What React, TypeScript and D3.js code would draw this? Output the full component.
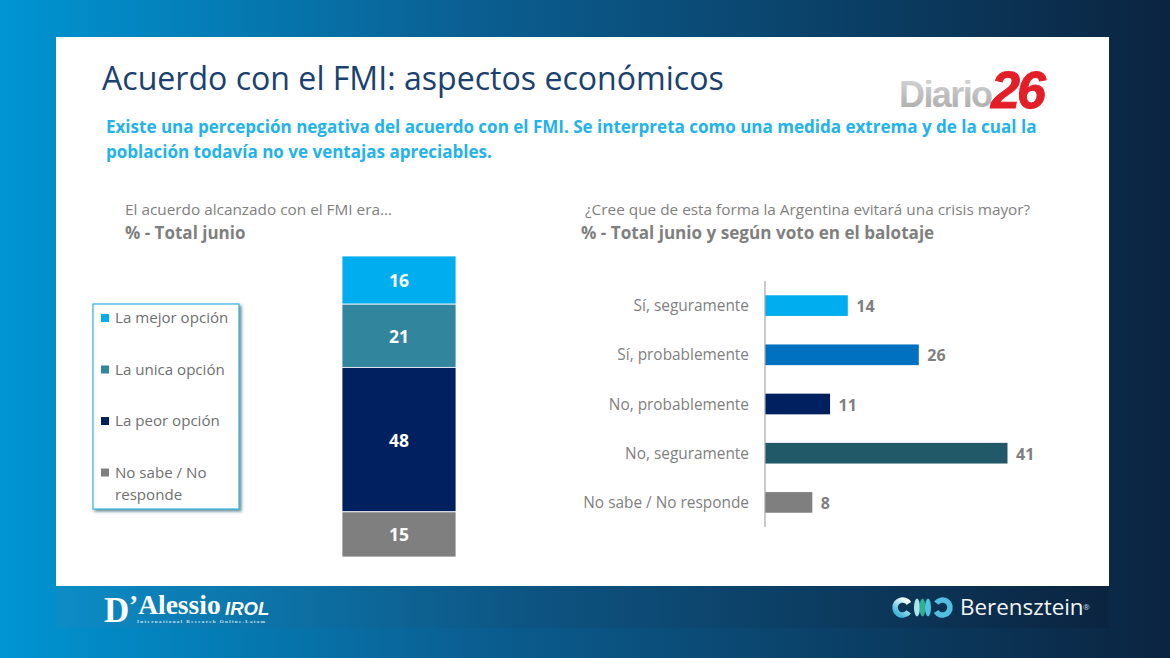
import { useEffect, useRef } from "react";

import * as d3 from "d3";

const stackLabels = ["La mejor opción", "La unica opción", "La peor opción", "No sabe / No responde"];
const stackValues = [16, 21, 48, 15];
const stackColors = ["#00adef", "#31859c", "#002060", "#7f7f7f"];

const barLabels = ["Sí, seguramente", "Sí, probablemente", "No, probablemente", "No, seguramente", "No sabe / No responde"];
const barValues = [14, 26, 11, 41, 8];
const barColors = ["#00adef", "#0070c0", "#002060", "#215968", "#7f7f7f"];

const FONT = "'Open Sans', 'Noto Sans', sans-serif";
const GREY = "#7f7f7f";

const App = () => {
  const svgRef = useRef<SVGSVGElement | null>(null);

  useEffect(() => {
    if (!svgRef.current) return;
    const svg = d3.select(svgRef.current);
    svg.selectAll("*").remove();

    const addText = (x: number, y: number, t: string, size: number, fill: string, weight = 400, anchor = "start") =>
      svg
        .append("text")
        .attr("x", x)
        .attr("y", y)
        .attr("font-size", size)
        .attr("font-weight", weight)
        .attr("fill", fill)
        .attr("text-anchor", anchor)
        .text(t);

    const defs = svg.append("defs");
    const bg = defs.append("linearGradient").attr("id", "bg");
    bg.append("stop").attr("offset", "0").attr("stop-color", "#0095d3");
    bg.append("stop").attr("offset", "0.4").attr("stop-color", "#0a5f92");
    bg.append("stop").attr("offset", "1").attr("stop-color", "#0b2440");
    const foot = defs.append("linearGradient").attr("id", "foot");
    foot.append("stop").attr("offset", "0").attr("stop-color", "#0c8cc6");
    foot.append("stop").attr("offset", "0.45").attr("stop-color", "#0d5482");
    foot.append("stop").attr("offset", "1").attr("stop-color", "#0b2440");
    const diario = defs.append("linearGradient").attr("id", "diario").attr("x2", "0").attr("y2", "1");
    diario.append("stop").attr("offset", "0").attr("stop-color", "#d9d9d9");
    diario.append("stop").attr("offset", "1").attr("stop-color", "#a6a6a6");
    const leftRing = defs.append("linearGradient").attr("id", "leftRing").attr("x2", "0").attr("y2", "1");
    leftRing.append("stop").attr("offset", "0").attr("stop-color", "#f2fbfd");
    leftRing.append("stop").attr("offset", "1").attr("stop-color", "#45b8dc");
    const shadow = defs.append("filter").attr("id", "shadow").attr("x", "-10%").attr("y", "-10%").attr("width", "125%").attr("height", "125%");
    shadow.append("feDropShadow").attr("dx", 2).attr("dy", 2).attr("stdDeviation", 1.5).attr("flood-color", "#31596b").attr("flood-opacity", 0.7);

    // Background, panel and footer
    svg.append("rect").attr("width", 1170).attr("height", 658).attr("fill", "url(#bg)");
    svg.append("rect").attr("x", 56).attr("y", 586).attr("width", 1053).attr("height", 42).attr("fill", "url(#foot)");
    svg.append("rect").attr("x", 56).attr("y", 37).attr("width", 1053).attr("height", 549).attr("fill", "#fff");

    // Headings
    addText(102, 90, "Acuerdo con el FMI: aspectos económicos", 32.1, "#1b4170");
    addText(106, 133, "Existe una percepción negativa del acuerdo con el FMI. Se interpreta como una medida extrema y de la cual la", 17.03, "#22b3ea", 700);
    addText(106, 158, "población todavía no ve ventajas apreciables.", 17.03, "#22b3ea", 700);
    addText(125, 214.7, "El acuerdo alcanzado con el FMI era…", 15.35, GREY);
    addText(125, 238.6, "% - Total junio", 17, GREY, 700);
    addText(585, 214.7, "¿Cree que de esta forma la Argentina evitará una crisis mayor?", 15.35, GREY);
    addText(581, 238.6, "% - Total junio y según voto en el balotaje", 17.1, GREY, 700);

    // Diario26 logo
    addText(899, 107, "Diario", 36, "url(#diario)", 700)
      .attr("font-family", "'Liberation Sans', sans-serif")
      .attr("letter-spacing", -1.6);
    addText(991, 108, "26", 52, "#e31e26", 700)
      .attr("font-family", "'Liberation Sans', sans-serif")
      .attr("font-style", "italic")
      .attr("letter-spacing", -3)
      .attr("stroke", "#e31e26")
      .attr("stroke-width", 1);

    // Stacked column
    const stackY = d3.scaleLinear().domain([0, d3.sum(stackValues)]).range([256, 557]);
    let acc = 0;
    stackValues.forEach((v, i) => {
      const y0 = stackY(acc);
      const y1 = stackY(acc + v);
      acc += v;
      svg
        .append("rect")
        .attr("x", 342)
        .attr("y", y0)
        .attr("width", 114)
        .attr("height", y1 - y0)
        .attr("fill", stackColors[i])
        .attr("stroke", "#fff")
        .attr("stroke-width", 0.8);
      addText(399, (y0 + y1) / 2 + 7, String(v), 17.5, "#fff", 700, "middle");
    });

    // Legend box
    svg
      .append("rect")
      .attr("x", 93)
      .attr("y", 304)
      .attr("width", 146)
      .attr("height", 205)
      .attr("fill", "#fff")
      .attr("stroke", "#2fb4dc")
      .attr("stroke-width", 1.2)
      .attr("filter", "url(#shadow)");
    const legendRows = [318, 369.5, 421, 472.5];
    stackLabels.forEach((label, i) => {
      svg
        .append("rect")
        .attr("x", 101)
        .attr("y", legendRows[i] - 4)
        .attr("width", 8)
        .attr("height", 8)
        .attr("fill", stackColors[i]);
      if (label.includes(" / ")) {
        addText(115, legendRows[i] + 5, "No sabe / No", 15.1, "#6f6f6f");
        addText(115, legendRows[i] + 27, "responde", 15.1, "#6f6f6f");
      } else {
        addText(115, legendRows[i] + 5, label, 15.1, "#6f6f6f");
      }
    });

    // Horizontal bars
    const x = d3.scaleLinear().domain([0, 41]).range([765, 1007.5]);
    const y = d3.scaleBand<string>().domain(barLabels).range([281, 527]).paddingInner(0.58).paddingOuter(0.29);
    barLabels.forEach((label, i) => {
      const by = y(label) as number;
      svg
        .append("rect")
        .attr("x", x(0))
        .attr("y", by)
        .attr("width", x(barValues[i]) - x(0))
        .attr("height", y.bandwidth())
        .attr("fill", barColors[i]);
      addText(749, by + y.bandwidth() / 2 + 5.6, label, 15.4, GREY, 400, "end");
      addText(x(barValues[i]) + 8.5, by + y.bandwidth() / 2 + 6.5, String(barValues[i]), 16, GREY, 700);
    });
    svg.append("line").attr("x1", 765).attr("x2", 765).attr("y1", 281).attr("y2", 527).attr("stroke", "#a6a6a6").attr("stroke-width", 1.2);

    // Footer logos
    addText(104, 622, "D", 35, "#fff", 700).attr("font-family", "'Liberation Serif', serif");
    addText(129, 614, "’Alessio", 27.5, "#fff", 700).attr("font-family", "'Liberation Serif', serif");
    addText(225, 615, "IROL", 18.5, "#fff", 700).attr("font-family", "'Liberation Sans', sans-serif").attr("font-style", "italic");
    addText(137, 623, "International Research Online.Latam", 5, "#cfe6f3", 700)
      .attr("font-family", "'Liberation Serif', serif")
      .attr("letter-spacing", 1.4);

    const ring = (cx: number, r: number, w: number, color: string) =>
      svg.append("circle").attr("cx", cx).attr("cy", 607.5).attr("r", r).attr("fill", "none").attr("stroke", color).attr("stroke-width", w);
    ring(902.5, 7.5, 5.5, "url(#leftRing)").attr("stroke-dasharray", "38 9").attr("transform", "rotate(35 902.5 607.5)");
    ring(942.5, 7.5, 5.5, "#52bfe0").attr("stroke-dasharray", "38 9").attr("transform", "rotate(215 942.5 607.5)");
    svg.append("ellipse").attr("cx", 917).attr("cy", 607.5).attr("rx", 3).attr("ry", 9).attr("fill", "#a8e4f0");
    svg.append("ellipse").attr("cx", 922.5).attr("cy", 607.5).attr("rx", 3).attr("ry", 9).attr("fill", "#2fb08f");
    svg.append("ellipse").attr("cx", 928).attr("cy", 607.5).attr("rx", 3).attr("ry", 9).attr("fill", "#4cc3e0");
    addText(960, 615, "Berensztein", 22.4, "#f2f6f9");
    addText(1083, 610, "®", 8, "#cfd8df");
  }, []);

  return (
    <svg
      ref={svgRef}
      width={1170}
      height={658}
      style={{ position: "fixed", left: 0, top: 0, fontFamily: FONT }}
    />
  );
};

export default App;
